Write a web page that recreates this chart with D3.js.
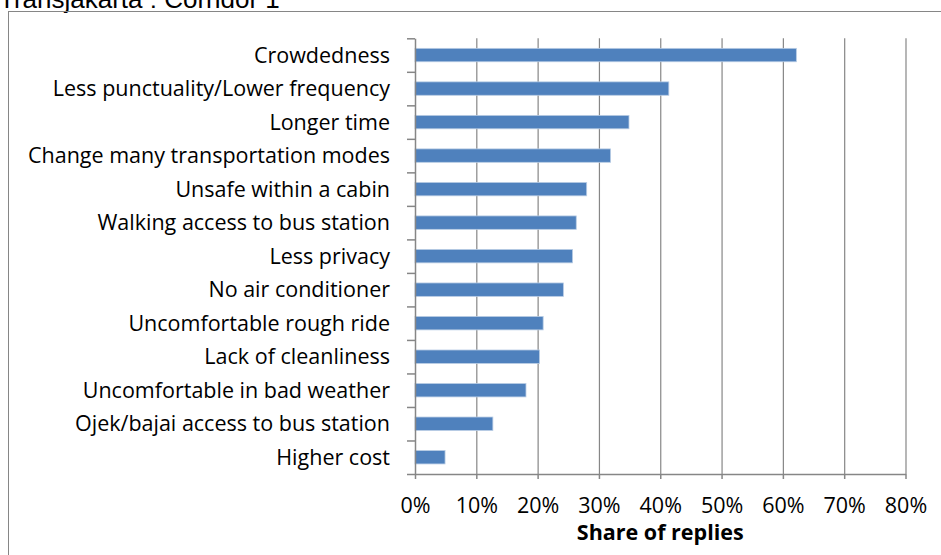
<!DOCTYPE html>
<html>
<head>
<meta charset="utf-8">
<script src="https://cdn.jsdelivr.net/npm/d3@7"></script>
<style>
  body { margin: 0; background: #fff; }
  svg { display: block; }
</style>
</head>
<body>
<script>
// Reasons for not using the bus, share of replies (%)
const categories = [
  "Crowdedness",
  "Less punctuality/Lower frequency",
  "Longer time",
  "Change many transportation modes",
  "Unsafe within a cabin",
  "Walking access to bus station",
  "Less privacy",
  "No air conditioner",
  "Uncomfortable rough ride",
  "Lack of cleanliness",
  "Uncomfortable in bad weather",
  "Ojek/bajai access to bus station",
  "Higher cost"
];
const shares = [62.2, 41.4, 34.9, 31.9, 28.0, 26.3, 25.7, 24.2, 20.9, 20.3, 18.1, 12.7, 4.9];
const xTicks = [0, 10, 20, 30, 40, 50, 60, 70, 80];
const chartTitle = "Transjakarta : Corridor 1";
const axisTitle = "Share of replies";

const W = 941, H = 555;
const plot = { left: 415, right: 905.5, top: 38.3, bottom: 474 };
const gridColor = "#868686";
const barColor = "#4F81BD";
const labelFont = "'Open Sans', sans-serif";
const labelSize = 21.5;

const svg = d3.select("body").append("svg")
  .attr("width", W).attr("height", H);

// title (runs off the top edge)
svg.append("text")
  .attr("x", -1).attr("y", 7.5)
  .attr("font-family", "'Liberation Sans', Arial, sans-serif")
  .attr("font-size", 26)
  .attr("fill", "#000")
  .text(chartTitle);

// chart frame
svg.append("rect")
  .attr("x", 8.5).attr("y", 11.5)
  .attr("width", 940).attr("height", 560)
  .attr("fill", "none")
  .attr("stroke", gridColor)
  .attr("stroke-width", 1);

const x = d3.scaleLinear().domain([0, 80]).range([plot.left, plot.right]);
const y = d3.scaleBand().domain(categories)
  .range([plot.top, plot.bottom])
  .paddingInner(0.6).paddingOuter(0.3);

// vertical gridlines
const grid = svg.append("g")
  .attr("transform", `translate(0,${plot.bottom})`)
  .call(d3.axisBottom(x).tickValues(xTicks.slice(1))
    .tickSize(-(plot.bottom - plot.top)).tickFormat(""));
grid.select(".domain").remove();
grid.selectAll("line").attr("stroke", gridColor).attr("stroke-width", 1.2);

// bars
svg.append("g").selectAll("rect")
  .data(categories)
  .join("rect")
  .attr("x", x(0))
  .attr("y", d => y(d))
  .attr("width", (d, i) => x(shares[i]) - x(0))
  .attr("height", y.bandwidth())
  .attr("fill", barColor)
  .attr("stroke", "#b8cce4")
  .attr("stroke-width", 0.8);

// category boundary ticks on the vertical axis
const idx = d3.scaleLinear().domain([0, categories.length]).range([plot.top, plot.bottom]);
const yAxis = svg.append("g")
  .attr("transform", `translate(${plot.left},0)`)
  .call(d3.axisLeft(idx).tickValues(d3.range(categories.length + 1))
    .tickSize(8).tickSizeOuter(0).tickFormat(""));
yAxis.select(".domain").attr("stroke", gridColor).attr("stroke-width", 1.5);
yAxis.selectAll("line").attr("stroke", gridColor).attr("stroke-width", 1.5);

// category labels
svg.append("g").selectAll("text")
  .data(categories)
  .join("text")
  .attr("x", 390)
  .attr("y", d => y(d) + y.bandwidth() / 2)
  .attr("dy", "0.35em")
  .attr("text-anchor", "end")
  .attr("font-family", labelFont)
  .attr("font-size", labelSize)
  .attr("fill", "#000")
  .text(d => d);

// horizontal axis
const xAxis = svg.append("g")
  .attr("transform", `translate(0,${plot.bottom})`)
  .call(d3.axisBottom(x).tickValues(xTicks)
    .tickSize(5).tickSizeOuter(0).tickPadding(19)
    .tickFormat(d => d + "%"));
xAxis.select(".domain").attr("stroke", gridColor).attr("stroke-width", 1.5);
xAxis.selectAll("line").attr("stroke", gridColor).attr("stroke-width", 1.5);
xAxis.selectAll("text")
  .attr("font-family", labelFont)
  .attr("font-size", labelSize)
  .attr("fill", "#000");

// axis title
svg.append("text")
  .attr("x", (plot.left + plot.right) / 2)
  .attr("y", 539.5)
  .attr("text-anchor", "middle")
  .attr("font-family", labelFont)
  .attr("font-size", labelSize)
  .attr("font-weight", "bold")
  .attr("fill", "#000")
  .text(axisTitle);
</script>
</body>
</html>
